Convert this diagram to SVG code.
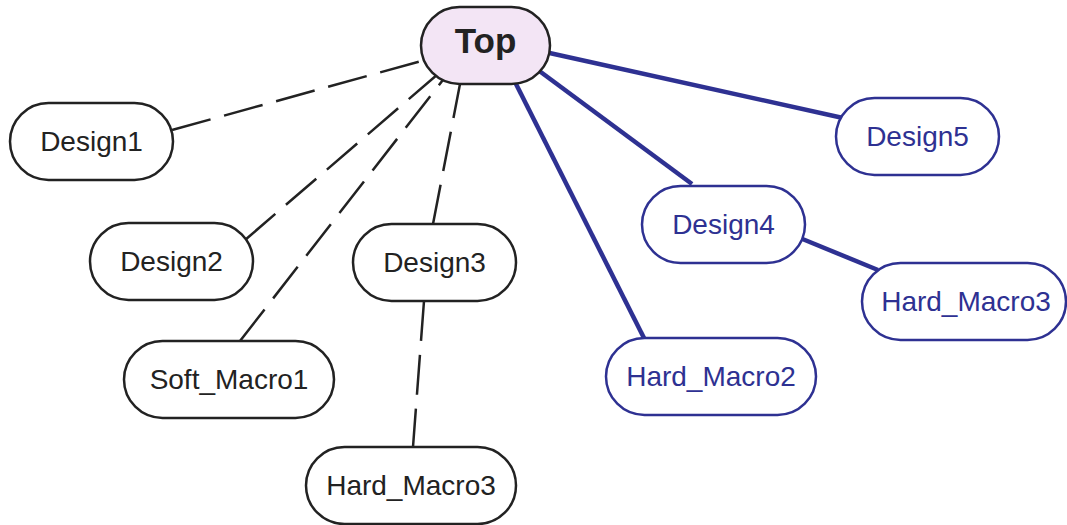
<svg xmlns="http://www.w3.org/2000/svg" width="1067" height="525" viewBox="0 0 1067 525">
<style>
.n rect{fill:#fff;stroke:#222;stroke-width:2.5}
.b rect{stroke:#2e3192}
.n text{font-family:"Liberation Sans",Arial,sans-serif;font-size:28px;fill:#222;text-anchor:middle}
.b text{fill:#2e3192}
.d{stroke:#222;stroke-width:2.5;stroke-dasharray:40 14;fill:none}
.s{stroke:#2e3192;stroke-width:4.5;fill:none}
</style>
<rect width="1067" height="525" fill="#fff"/>
<g id="edges">
<line class="d" x1="172" y1="130" x2="425" y2="60"/>
<line class="d" x1="245" y1="240" x2="438" y2="74"/>
<line class="d" x1="240" y1="341" x2="446" y2="76"/>
<line class="d" x1="433" y1="224" x2="460" y2="84"/>
<line class="d" x1="424" y1="301" x2="413" y2="447"/>
<line class="s" x1="545" y1="52" x2="843" y2="118"/>
<line class="s" x1="538" y1="70" x2="692" y2="184"/>
<line class="s" x1="515" y1="82" x2="645" y2="340"/>
<line class="s" x1="800" y1="238" x2="878" y2="270"/>
</g>
<g id="top" class="n"><rect x="421" y="7" width="129" height="77" rx="38.5" style="fill:#f3e5f5"/><text x="485.5" y="53" style="font-size:35px;font-weight:bold">Top</text></g>
<g id="design1" class="n"><rect x="10" y="103" width="163" height="77" rx="38.5"/><text x="91.5" y="150.5">Design1</text></g>
<g id="design2" class="n"><rect x="90" y="223" width="163" height="77" rx="38.5"/><text x="171.5" y="270.5">Design2</text></g>
<g id="design3" class="n"><rect x="353" y="224" width="163" height="77" rx="38.5"/><text x="434.5" y="271.5">Design3</text></g>
<g id="soft_macro1" class="n"><rect x="124" y="341" width="210" height="77" rx="38.5"/><text x="229" y="388.5">Soft_Macro1</text></g>
<g id="hard_macro3_a" class="n"><rect x="306" y="447" width="210" height="77" rx="38.5"/><text x="411" y="494.5">Hard_Macro3</text></g>
<g id="design5" class="n b"><rect x="836" y="98" width="163" height="77" rx="38.5"/><text x="917.5" y="145.5">Design5</text></g>
<g id="design4" class="n b"><rect x="642" y="186" width="163" height="77" rx="38.5"/><text x="723.5" y="233.5">Design4</text></g>
<g id="hard_macro3_b" class="n b"><rect x="862" y="263" width="204" height="77" rx="38.5"/><text x="966" y="310.5">Hard_Macro3</text></g>
<g id="hard_macro2" class="n b"><rect x="606" y="338" width="210" height="77" rx="38.5"/><text x="711" y="385.5">Hard_Macro2</text></g>
</svg>
